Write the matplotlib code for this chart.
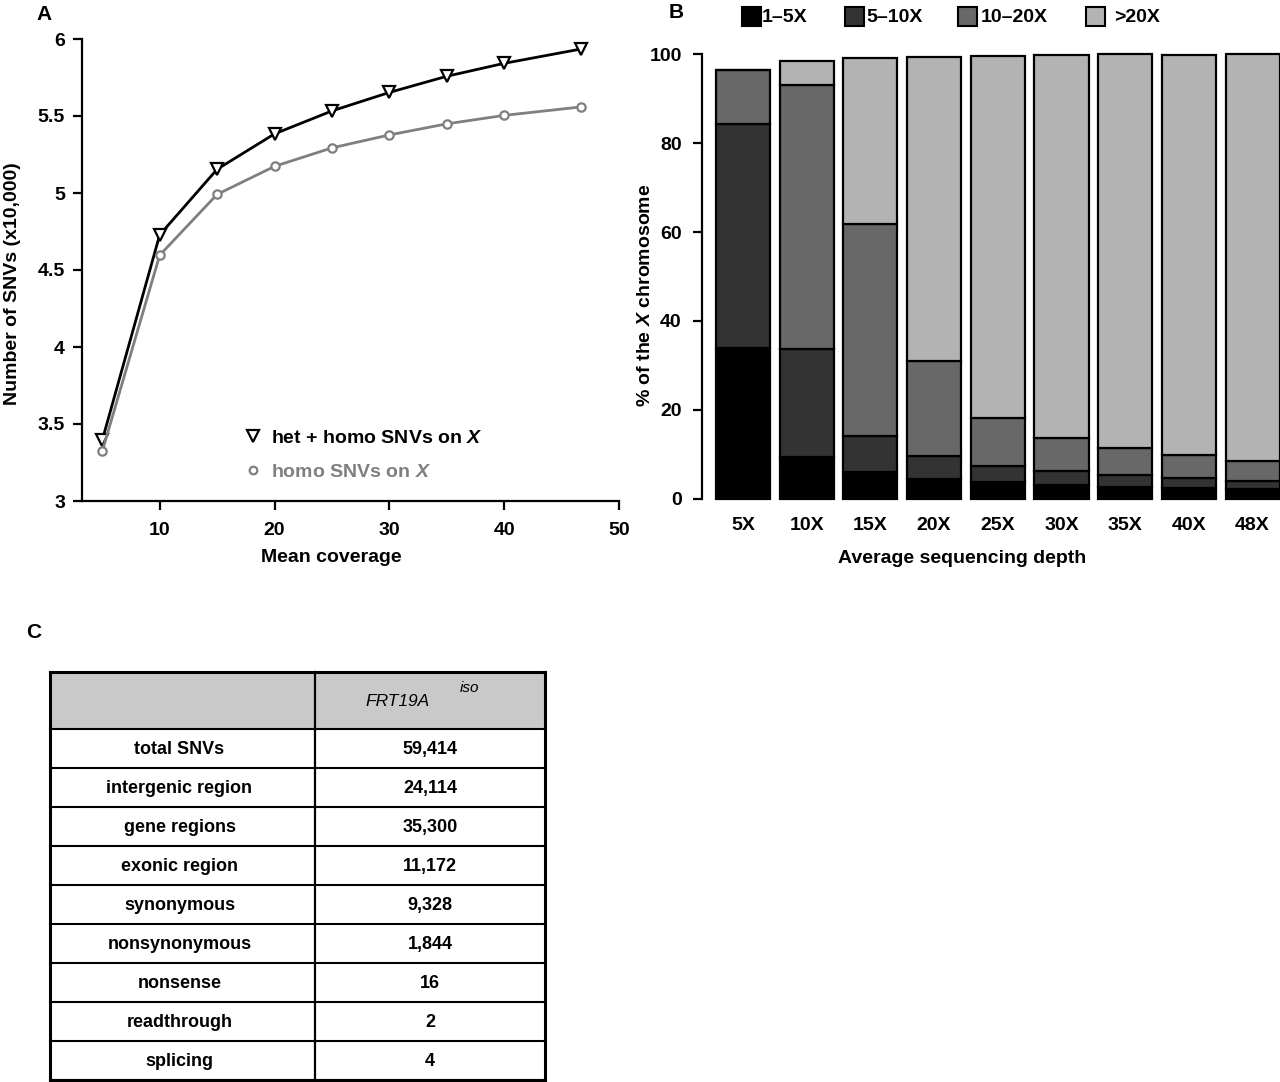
import matplotlib
matplotlib.use('Agg')
import matplotlib.pyplot as plt
from matplotlib.patches import Rectangle
from matplotlib.lines import Line2D

plt.rcParams['font.family'] = ['Liberation Sans', 'DejaVu Sans']
plt.rcParams['font.weight'] = 'bold'
plt.rcParams['axes.labelweight'] = 'bold'
plt.rcParams['mathtext.fontset'] = 'custom'
plt.rcParams['mathtext.rm'] = 'Liberation Sans:bold'
plt.rcParams['mathtext.it'] = 'Liberation Sans:italic:bold'

# ---------------- data ----------------
coverage = [5, 10, 15, 20, 25, 30, 35, 40, 46.7]
het_homo_snvs = [3.395, 4.728, 5.154, 5.384, 5.533, 5.653, 5.758, 5.842, 5.935]
homo_snvs = [3.323, 4.596, 4.991, 5.173, 5.293, 5.377, 5.449, 5.504, 5.559]
series_labels = ['het + homo SNVs on $\\it{X}$', 'homo SNVs on $\\it{X}$']

depth_labels = ['5X', '10X', '15X', '20X', '25X', '30X', '35X', '40X', '48X']
bin_labels = ['1\u20135X', '5\u201310X', '10\u201320X', '>20X']
pct_1_5 = [34.0, 9.3, 5.9, 4.3, 3.7, 3.0, 2.6, 2.4, 2.2]
pct_5_10 = [50.4, 24.3, 8.2, 5.2, 3.7, 3.2, 2.6, 2.3, 1.7]
pct_10_20 = [12.0, 59.5, 47.8, 21.4, 10.7, 7.4, 6.1, 5.2, 4.5]
pct_gt20 = [0.0, 5.4, 37.3, 68.6, 81.6, 86.2, 88.7, 90.1, 91.6]

table_rows = ['total SNVs', 'intergenic region', 'gene regions', 'exonic region',
              'synonymous', 'nonsynonymous', 'nonsense', 'readthrough', 'splicing']
table_values = ['59,414', '24,114', '35,300', '11,172', '9,328', '1,844', '16', '2', '4']
table_header = 'FRT19A'
table_header_sup = 'iso'

# ---------------- figure ----------------
W, H = 1280, 1082
fig = plt.figure(figsize=(W / 100, H / 100), dpi=100)
FS = 14
TFS = 14


def fx(px):
    return px / W


def fy(py):
    return 1 - py / H


# ---------------- panel A ----------------
A_left, A_right, A_top, A_bot = 81.6, 619, 39, 501
axA = fig.add_axes([fx(A_left), fy(A_bot), fx(A_right - A_left), (A_bot - A_top) / H])
axA.plot(coverage, het_homo_snvs, color='black', lw=2, marker='v', ms=9,
         mfc='white', mec='black', mew=1.6, clip_on=False, zorder=3)
axA.plot(coverage, homo_snvs, color='#7f7f7f', lw=2, marker='o', ms=6,
         mfc='white', mec='#7f7f7f', mew=1.6, clip_on=False, zorder=3)
axA.set_xlim(3.2, 50)
axA.set_ylim(3, 6)
axA.set_xticks([10, 20, 30, 40, 50])
axA.set_yticks([3, 3.5, 4, 4.5, 5, 5.5, 6])
axA.set_yticklabels(['3', '3.5', '4', '4.5', '5', '5.5', '6'])
for s in ['top', 'right']:
    axA.spines[s].set_visible(False)
for s in ['left', 'bottom']:
    axA.spines[s].set_linewidth(1.6)
axA.tick_params(direction='out', length=6.5, width=1.6, labelsize=TFS)
axA.tick_params(axis='y', pad=5.5)
axA.tick_params(axis='x', pad=8.5)
axA.set_xlabel('Mean coverage', fontsize=FS, va='center')
axA.set_ylabel('Number of SNVs (x10,000)', fontsize=FS, va='center')
axA.xaxis.set_label_coords((331.5 - A_left) / (A_right - A_left), (A_bot - 558) / (A_bot - A_top))
axA.yaxis.set_label_coords((12 - A_left) / (A_right - A_left), (A_bot - 284) / (A_bot - A_top))

handles = [Line2D([], [], ls='none', marker='v', ms=9, mfc='white', mec='black', mew=1.6),
           Line2D([], [], ls='none', marker='o', ms=5.5, mfc='white', mec='#7f7f7f', mew=1.6)]
leg = axA.legend(handles, series_labels, loc='upper left', frameon=False,
                 bbox_to_anchor=(fx(243), fy(429)), bbox_transform=fig.transFigure,
                 borderpad=0, borderaxespad=0, handlelength=1.0, handletextpad=0.45,
                 labelspacing=0.86, fontsize=FS)
leg.get_texts()[1].set_color('#7f7f7f')

fig.text(fx(36), fy(14), 'A', fontsize=15, fontweight='bold', va='center')

# ---------------- panel B ----------------
B_left, B_right, B_top, B_bot = 702, 1280, 54.5, 498.5
axB = fig.add_axes([fx(B_left), fy(B_bot), fx(B_right - B_left), (B_bot - B_top) / H])
colors = ['#000000', '#333333', '#686868', '#b3b3b3']
segments = [pct_1_5, pct_5_10, pct_10_20, pct_gt20]
xpos = list(range(len(depth_labels)))
bottom = [0.0] * len(xpos)
for seg, col, lab in zip(segments, colors, bin_labels):
    axB.bar(xpos, seg, bottom=bottom, width=0.85, color=col, edgecolor='black',
            linewidth=1.6, label=lab, clip_on=False)
    bottom = [b + v for b, v in zip(bottom, seg)]
axB.set_xlim(-0.644, 8.43)
axB.set_ylim(0, 100)
axB.set_yticks([0, 20, 40, 60, 80, 100])
axB.set_xticks(xpos)
axB.set_xticklabels(depth_labels)
for s in ['top', 'right', 'bottom']:
    axB.spines[s].set_visible(False)
axB.spines['left'].set_linewidth(1.6)
axB.tick_params(axis='y', direction='out', length=6.5, width=1.6, labelsize=TFS, pad=8)
axB.tick_params(axis='x', length=0, labelsize=TFS, pad=13)
axB.set_xlabel('Average sequencing depth', fontsize=FS, va='center')
axB.set_ylabel('% of the $\\it{X}$ chromosome', fontsize=FS, va='center')
axB.xaxis.set_label_coords((962.5 - B_left) / (B_right - B_left), (B_bot - 558.5) / (B_bot - B_top))
axB.yaxis.set_label_coords((646 - B_left) / (B_right - B_left), (B_bot - 295) / (B_bot - B_top))

# legend across the top
leg_box_x = [742, 845, 958, 1086]
leg_text_x = [762, 866, 981, 1114]
for lab, col, bx, tx in zip(bin_labels, colors, leg_box_x, leg_text_x):
    fig.patches.append(Rectangle((fx(bx), fy(26)), fx(19), 19 / H, transform=fig.transFigure,
                                 facecolor=col, edgecolor='black', linewidth=1.5))
    fig.text(fx(tx), fy(17), lab, fontsize=FS, va='center', ha='left')

fig.text(fx(669), fy(12), 'B', fontsize=15, fontweight='bold', va='center')

# ---------------- panel C (table) ----------------
top_px, head_px, bot_px = 671.5, 728.5, 1080
left_px, div_px, right_px = 50, 315, 545
tax = fig.add_axes([fx(left_px), fy(bot_px), fx(right_px - left_px), (bot_px - top_px) / H])
tax.set_xlim(left_px, right_px)
tax.set_ylim(bot_px, top_px)
tax.axis('off')
n = len(table_rows)
row_h = (bot_px - head_px) / n
tax.add_patch(Rectangle((left_px, top_px), right_px - left_px, head_px - top_px,
                        facecolor='#c9c9c9', edgecolor='none'))
for i in range(n + 1):
    yb = head_px + i * row_h
    tax.plot([left_px, right_px], [yb, yb], color='black', lw=1.5, clip_on=False)
tax.plot([left_px, right_px], [top_px, top_px], color='black', lw=2.2, clip_on=False)
tax.plot([left_px, right_px], [bot_px, bot_px], color='black', lw=2.2, clip_on=False)
tax.plot([left_px, left_px], [top_px, bot_px], color='black', lw=2.2, clip_on=False)
tax.plot([right_px, right_px], [top_px, bot_px], color='black', lw=2.2, clip_on=False)
tax.plot([div_px, div_px], [top_px, bot_px], color='black', lw=1.6, clip_on=False)
c1 = (left_px + div_px) / 2 - 3
c2 = (div_px + right_px) / 2
for i, (lab, val) in enumerate(zip(table_rows, table_values)):
    yc = head_px + (i + 0.5) * row_h + 1.5
    tax.text(c1, yc, lab, ha='center', va='center', fontsize=13)
    tax.text(c2, yc, val, ha='center', va='center', fontsize=13)
tax.text(398, 701, table_header, ha='center', va='center', fontsize=12.5,
         style='italic', fontweight='normal')
tax.text(470, 688, table_header_sup, ha='center', va='center', fontsize=11,
         style='italic', fontweight='normal')

fig.text(fx(26), fy(633), 'C', fontsize=15, fontweight='bold', va='center')

fig.savefig('out.png', dpi=100)
